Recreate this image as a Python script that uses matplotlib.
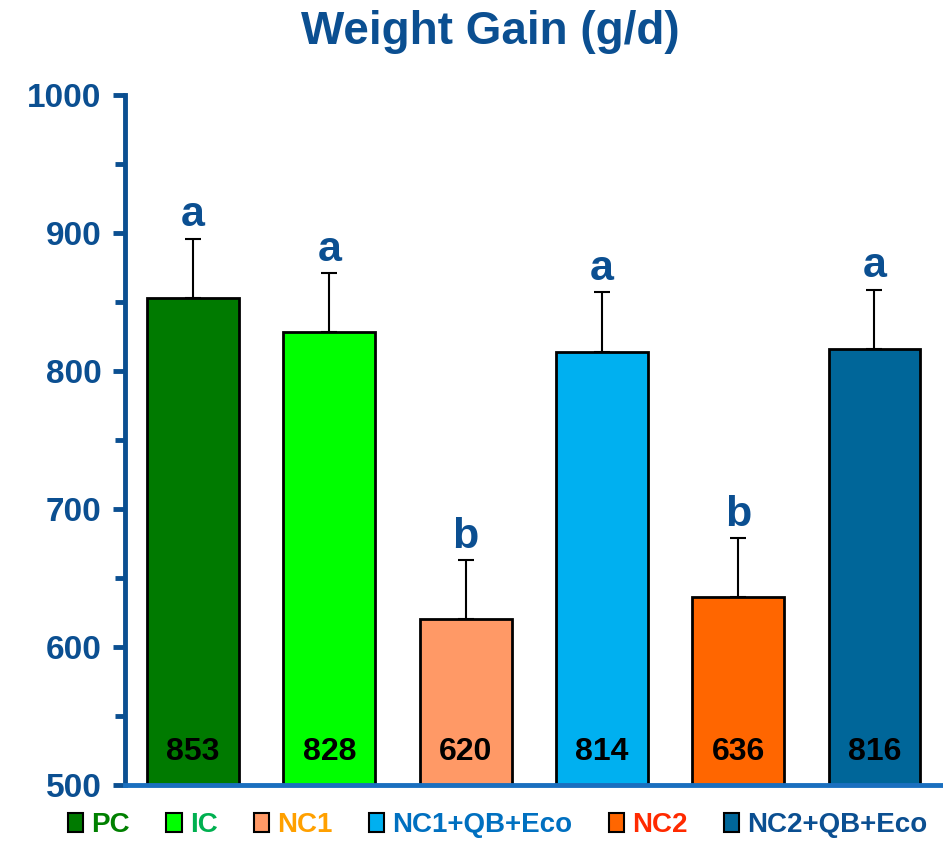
import numpy as np
import matplotlib
matplotlib.use("Agg")
import matplotlib.pyplot as plt
from matplotlib import font_manager
from matplotlib.patches import Patch
from matplotlib.ticker import MultipleLocator

groups = ["PC", "IC", "NC1", "NC1+QB+Eco", "NC2", "NC2+QB+Eco"]
gain = [853, 828, 620, 814, 636, 816]
err = [43, 43, 43, 43, 43, 43]
letters = ["a", "a", "b", "a", "b", "a"]
bar_colors = ["#007a00", "#00ff00", "#ff9966", "#00b0f0", "#ff6600", "#006699"]
label_colors = ["#008000", "#00b050", "#ffa000", "#0070c0", "#ff2a00", "#0b4f91"]

names = {f.name for f in font_manager.fontManager.ttflist}
narrow = "Liberation Sans Narrow" if "Liberation Sans Narrow" in names else "Liberation Sans"
blue = "#0b4f91"

fig = plt.figure(figsize=(9.43, 8.42), dpi=100)
ax = fig.add_axes([0.1326, 0.0677, 0.867, 0.8195])

x = np.arange(len(groups))
ax.bar(x, np.array(gain) - 500, bottom=500, width=0.675, color=bar_colors,
       edgecolor="black", linewidth=2, zorder=2)
ax.errorbar(x, gain, yerr=[np.zeros(len(err)), err], fmt="none", ecolor="black",
            elinewidth=1.5, capsize=6, capthick=1.5, zorder=1)

for xi, v, e, l in zip(x, gain, err, letters):
    ax.text(xi, v + e + 17, l, ha="center", va="center", fontsize=31,
            fontweight="bold", color=blue, family="Liberation Sans")
    ax.text(xi, 524, str(v), ha="center", va="center", fontsize=23,
            fontweight="bold", color="black", family=narrow)

ax.set_xlim(-0.5, 5.5)
ax.set_ylim(500, 1000)
ax.yaxis.set_major_locator(MultipleLocator(100))
ax.yaxis.set_minor_locator(MultipleLocator(50))
ax.set_xticks([])
for s in ["top", "right"]:
    ax.spines[s].set_visible(False)
ax.spines["left"].set_color(blue)
ax.spines["left"].set_linewidth(3.5)
ax.spines["bottom"].set_color("#1a6fbf")
ax.spines["bottom"].set_linewidth(3.5)
ax.tick_params(axis="y", which="major", length=9, width=3.5, color=blue,
               labelsize=24, labelcolor=blue, pad=8)
ax.tick_params(axis="y", which="minor", length=7, width=3.5, color=blue)
for t in ax.get_yticklabels():
    t.set_fontweight("bold")
    t.set_family(narrow)

fig.text(0.52, 0.962, "Weight Gain (g/d)", ha="center", va="center",
         fontsize=33, fontweight="bold", color=blue, family="Liberation Sans")

handles = [Patch(facecolor=c, edgecolor="black", linewidth=1.5) for c in bar_colors]
leg = fig.legend(handles, groups, loc="center", bbox_to_anchor=(0.528, 0.02),
                 ncol=6, frameon=False, handlelength=0.55, handleheight=0.7,
                 handletextpad=0.3, columnspacing=1.3,
                 prop={"family": narrow, "weight": "bold", "size": 20})
for t, c in zip(leg.get_texts(), label_colors):
    t.set_color(c)

fig.savefig("out.png", dpi=100)
